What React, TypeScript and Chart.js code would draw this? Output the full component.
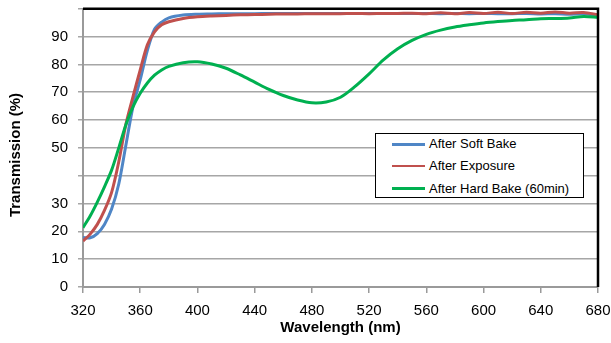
import React, { useEffect, useRef } from "react";
import { Chart, registerables } from "chart.js";

Chart.register(...registerables);

const wavelengths = [320,325,330,335,340,345,350,355,360,365,370,375,380,390,400,410,420,430,440,450,460,470,480,490,500,510,520,530,540,550,560,570,580,590,600,610,620,630,640,650,660,670,680];

const softBake = [17.8,17.7,19.2,22.5,28,37,51,65,74.5,85,92.6,95.2,96.7,97.7,98,98.1,98.2,98.2,98.2,98.3,98.3,98.3,98.3,98.3,98.3,98.3,98.3,98.3,98.3,98.3,98.3,98.2,98.3,98.2,98.3,98.2,98.2,98.3,98.1,98.2,98.0,98.2,97.6];

const exposure = [16.5,19,22.5,27.5,34,45,58.5,68.5,78,87,91.7,94.2,95.3,96.5,97.1,97.4,97.6,97.8,97.9,98,98.1,98.1,98.2,98.2,98.2,98.3,98.2,98.3,98.3,98.4,98.2,98.5,98.2,98.6,98.3,98.7,98.3,98.7,98.4,98.8,98.4,98.6,97.8];

const hardBake = [21.3,25.5,30.5,36,42,50,58.3,64.8,69.6,73.3,76.1,78,79.3,80.6,80.9,80.1,78.6,76.2,73.6,71,68.8,67.2,66.2,66.5,68.2,72,76.6,81.6,85.6,88.6,90.8,92.3,93.4,94.2,94.9,95.4,95.8,96,96.4,96.5,96.7,97.2,96.9];

const seriesNames = ["After Soft Bake", "After Exposure", "After Hard Bake (60min)"];
const seriesColors = ["#4f86c6", "#c0504d", "#00b050"];

const hiddenYLabels = [40, 100];
const yTitle = "Transmission (%)";
const xTitle = "Wavelength (nm)";

const FONT = "'Liberation Sans', Arial, sans-serif";

export default function App() {
  const ref = useRef<HTMLCanvasElement | null>(null);

  useEffect(() => {
    if (!ref.current) return;
    const toPts = (ys: number[]) => wavelengths.map((x, i) => ({ x, y: ys[i] }));
    const frame = {
      id: "frame",
      afterDatasetsDraw(chart: any) {
        const { ctx, chartArea } = chart;
        ctx.save();
        ctx.strokeStyle = "#000";
        ctx.lineWidth = 2.5;
        ctx.beginPath();
        ctx.moveTo(chartArea.left, chartArea.top);
        ctx.lineTo(chartArea.right, chartArea.top);
        ctx.lineTo(chartArea.right, chartArea.bottom);
        ctx.stroke();
        ctx.restore();
      },
      afterDraw(chart: any) {
        const { ctx } = chart;
        ctx.save();
        ctx.translate(16, 155);
        ctx.rotate(-Math.PI / 2);
        ctx.fillStyle = "#000";
        ctx.font = `bold 15px ${FONT}`;
        ctx.textAlign = "center";
        ctx.textBaseline = "middle";
        ctx.fillText(yTitle, 0, 0);
        ctx.restore();
      },
    };
    const ds = (i: number, ys: number[], order: number) => ({
      label: seriesNames[i],
      data: toPts(ys),
      borderColor: seriesColors[i],
      backgroundColor: seriesColors[i],
      borderWidth: 3,
      pointRadius: 0,
      tension: 0.3,
      order,
    });
    const chart = new Chart(ref.current, {
      type: "line",
      data: {
        datasets: [ds(0, softBake, 2), ds(1, exposure, 1), ds(2, hardBake, 0)],
      },
      options: {
        responsive: false,
        animation: false,
        layout: { padding: { top: 8.7, right: 13, left: 0, bottom: 0 } },
        plugins: { legend: { display: false }, tooltip: { enabled: false } },
        scales: {
          x: {
            type: "linear",
            min: 320,
            max: 680,
            afterFit: (s: any) => { s.height = 56; s.paddingLeft = 0; s.paddingRight = 0; },
            ticks: { stepSize: 40, color: "#000", font: { family: FONT, size: 15 }, padding: 9, maxRotation: 0 },
            grid: { drawOnChartArea: false, drawTicks: true, tickLength: 6, color: "#9a9a9a", lineWidth: 1.5 },
            border: { color: "#9a9a9a", width: 2 },
            title: { display: true, text: xTitle, color: "#000", font: { family: FONT, size: 15, weight: "bold" }, padding: { top: 0, bottom: 6 } },
          },
          y: {
            min: 0,
            max: 100,
            afterFit: (s: any) => { s.width = 83; s.paddingTop = 0; s.paddingBottom = 0; },
            ticks: {
              stepSize: 10,
              color: "#000",
              font: { family: FONT, size: 15 },
              padding: 10,
              callback: (v: any) => (hiddenYLabels.includes(Number(v)) ? "" : String(v)),
            },
            grid: { color: "#a6a6a6", lineWidth: 1.5, tickLength: 5 },
            border: { color: "#9a9a9a", width: 2 },
            title: { display: false },
          },
        },
      },
      plugins: [frame],
    } as any);
    return () => chart.destroy();
  }, []);

  const rowTops = [10.3, 32, 54.7];

  return (
    <div style={{ position: "absolute", left: 0, top: 0, width: 611, height: 343, background: "#fff" }}>
      <canvas ref={ref} width={611} height={343} style={{ display: "block" }} />
      <div
        style={{
          position: "absolute",
          left: 375,
          top: 133,
          width: 207,
          height: 63,
          border: "1px solid #000",
          background: "#fff",
          fontFamily: FONT,
          fontSize: 13,
          color: "#000",
        }}
      >
        {seriesNames.map((name, i) => (
          <div key={name}>
            <div style={{ position: "absolute", left: 16, top: rowTops[i] - 1.25, width: 33, height: 2.5, background: seriesColors[i] }} />
            <div style={{ position: "absolute", left: 53, top: rowTops[i] - 8, lineHeight: "16px", whiteSpace: "nowrap" }}>{name}</div>
          </div>
        ))}
      </div>
    </div>
  );
}
